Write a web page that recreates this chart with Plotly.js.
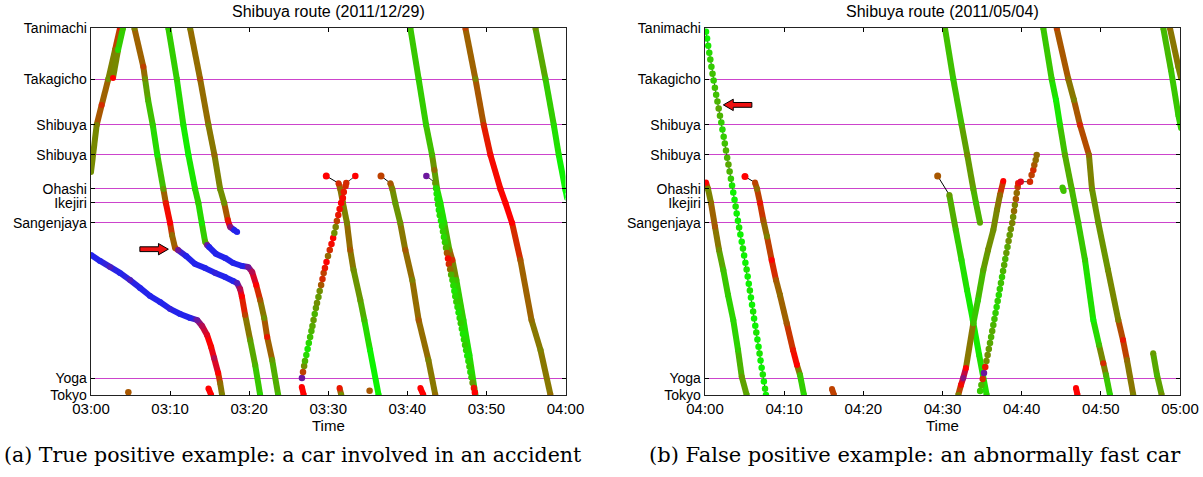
<!DOCTYPE html>
<html><head><meta charset="utf-8">
<script src="https://cdn.plot.ly/plotly-3.0.1.min.js"></script>
<style>html,body{margin:0;padding:0;background:#fff}#chart{width:1203px;height:477px}</style>
</head><body><div id="chart"></div>
<script>
// ---------- axes / labels ----------
const stationNames = ['Tokyo','Yoga','Sangenjaya','Ikejiri','Ohashi','Shibuya','Shibuya','Takagicho','Tanimachi'];
const stationKm    = [0, 0.56, 5.74, 6.41, 6.87, 8.01, 9.0, 10.53, 12.23];
const tickMinutes  = [0, 10, 20, 30, 40, 50, 60];
const tickLabelsA  = ['03:00','03:10','03:20','03:30','03:40','03:50','04:00'];
const tickLabelsB  = ['04:00','04:10','04:20','04:30','04:40','04:50','05:00'];
const titleA = 'Shibuya route (2011/12/29)';
const titleB = 'Shibuya route (2011/05/04)';
const captionA = '(a) True positive example: a car involved in an accident';
const captionB = '(b) False positive example: an abnormally fast car';
const arrowA = [9.78, 4.86];   // tip (minute, km), pointing right
const arrowB = [2.32, 9.67];   // tip, pointing left

// ---------- panel (a): minutes after 03:00, km from Tokyo, speed km/h ----------
const a1_t = [0, 0.72, 1.35, 2.19, 3.04, 3.67];
const a1_y = [7.43, 9.0, 9.67, 10.53, 11.5, 12.23];
const a1_v = [55, 50, 30, 55, 45, 25];

const a2_t = [2.78, 3.42, 4.05];
const a2_y = [10.57, 11.5, 12.23];
const a2_v = [20, 85, 75];

const a3_t = [5.48, 6.62, 6.84, 7.22, 7.81, 8.39, 9.15, 9.46, 10.0, 10.25, 10.63, 11.01, 12.03, 13.16, 14.43, 15.7, 16.96, 17.97, 18.48, 18.86, 19.08, 19.49, 20.13, 20.76, 21.39];
const a3_y = [12.23, 10.94, 10.53, 9.83, 9.0, 8.0, 6.87, 6.4, 5.73, 5.33, 4.9, 4.83, 4.63, 4.37, 4.23, 4.07, 3.93, 3.8, 3.73, 3.53, 3.28, 2.67, 1.83, 1.0, 0];
const a3_v = [50, 35, 55, 70, 80, 90, 60, 25, 20, 45, 40, 10, 3, 4, 3, 6, 3, 4, 8, 15, 20, 35, 60, 70, 85];

const a4_t = [9.78, 10.85, 11.68, 12.32, 13.16, 13.58, 14.01, 14.43, 14.68, 14.94, 15.82, 16.96, 17.97, 19.11, 19.87, 20.38, 20.89, 21.39, 21.9, 22.28, 22.91, 23.67];
const a4_y = [12.23, 10.53, 9.0, 8.0, 6.87, 6.4, 5.73, 5.11, 5.0, 4.93, 4.7, 4.57, 4.4, 4.3, 4.27, 4.1, 3.67, 3.17, 2.57, 1.93, 1.17, 0];
const a4_v = [80, 80, 90, 95, 85, 80, 90, 70, 10, 5, 3, 4, 3, 5, 10, 15, 20, 40, 55, 25, 60, 75];

const a5_t = [12.53, 13.8, 14.85, 15.61, 16.33, 16.84, 17.3, 17.59, 18.1, 18.48];
const a5_y = [12.23, 10.53, 9.0, 8.0, 6.87, 6.4, 5.83, 5.6, 5.5, 5.43];
const a5_v = [50, 40, 50, 45, 55, 55, 25, 12, 2, 2];

const a6_t = [0, 1.14, 2.41, 3.67, 4.94, 6.2, 7.47, 8.73, 10.0, 11.27, 12.53, 13.42, 14.05, 14.68, 15.19, 15.57, 16.08, 16.33, 16.58];
const a6_y = [4.67, 4.47, 4.27, 4.07, 3.83, 3.57, 3.3, 3.1, 2.87, 2.7, 2.57, 2.5, 2.3, 2.0, 1.6, 1.23, 0.73, 0.4, 0];
const a6_v = [3, 4, 8, 3, 8, 3, 4, 3, 6, 3, 4, 10, 15, 18, 22, 15, 20, 45, 50];

const a7_t = [40.38, 41.43, 42.37, 43.13, 43.42, 43.76, 44.18, 44.68, 45.32, 45.7, 46.2, 47.09, 47.85, 48.61];
const a7_y = [12.23, 10.53, 9.0, 8.0, 7.5, 6.87, 6.4, 5.73, 4.83, 4.5, 3.83, 2.5, 1.33, 0];
const a7_v = [75, 80, 80, 70, 45, 80, 90, 85, 55, 30, 75, 85, 90, 80];

const a8_t = [47.34, 48.61, 49.66, 50.51, 51.77, 52.41, 53.25, 54.3, 55.7, 56.84, 58.1];
const a8_y = [12.23, 10.53, 9.0, 8.0, 6.87, 6.4, 5.73, 4.5, 2.5, 1.5, 0];
const a8_v = [35, 50, 30, 22, 22, 20, 20, 40, 45, 50, 45];

const a9_t = [56.2, 57.47, 58.52, 59.15, 60.0, 60.2];
const a9_y = [12.23, 10.53, 9.0, 8.0, 6.83, 6.57];
const a9_v = [55, 75, 85, 90, 100, 100];

// sampled (dotted) trajectory rising from Yoga
const a10_t = [26.67, 26.81, 26.95, 27.06, 27.23, 27.39, 27.54, 27.71, 27.87, 28.0, 28.14, 28.29, 28.44, 28.58, 28.76, 28.92, 29.1, 29.27, 29.42, 29.58, 29.78, 29.97, 30.19, 30.41, 30.62, 30.77, 30.94, 31.09, 31.27, 31.44, 31.63, 31.85, 31.97, 32.19, 32.28, 33.42];
const a10_y = [0.57, 0.77, 0.97, 1.13, 1.33, 1.53, 1.73, 1.93, 2.13, 2.3, 2.5, 2.7, 2.9, 3.07, 3.27, 3.47, 3.67, 3.87, 4.07, 4.23, 4.43, 4.63, 4.83, 5.03, 5.23, 5.4, 5.6, 5.8, 6.0, 6.2, 6.4, 6.57, 6.77, 6.97, 7.07, 7.3];
const a10_v = [10, 35, 55, 70, 85, 90, 85, 75, 70, 65, 60, 70, 60, 55, 60, 55, 40, 30, 35, 25, 20, 45, 30, 22, 20, 55, 50, 35, 25, 22, 20, 22, 25, 30, 30, 20];

// first point of a11 / a12 is an isolated entry sample joined by a thin line
const a11_t = [29.75, 31.3, 31.52, 31.86, 32.37, 32.78, 33.2, 34.05, 34.56, 35.28, 36.37];
const a11_y = [7.3, 7.06, 6.87, 6.4, 5.73, 4.83, 4.17, 3.17, 2.5, 1.5, 0];
const a11_v = [20, 30, 45, 50, 50, 40, 55, 60, 75, 95, 95];

const a12_t = [36.67, 37.85, 38.1, 38.48, 39.11, 39.75, 40.63, 41.43, 42.66, 43.54];
const a12_y = [7.3, 7.06, 6.87, 6.4, 5.73, 4.83, 3.83, 2.5, 1.17, 0];
const a12_v = [35, 40, 50, 60, 55, 40, 50, 40, 50, 45];

const a13_t = [42.41, 43.54, 43.63, 43.71, 43.8, 43.89, 43.99, 44.1, 44.25, 44.38, 44.51, 44.63, 44.76, 44.89, 45.01, 45.14, 45.25, 45.42, 45.54, 45.7, 45.82, 45.95, 46.06, 46.2, 46.34, 46.48, 46.62, 46.76, 46.89, 47.03, 47.16, 47.3, 47.44, 47.58, 47.72, 47.85, 47.97, 48.11, 48.25, 48.42, 48.54];
const a13_y = [7.3, 7.07, 6.89, 6.71, 6.53, 6.35, 6.17, 5.99, 5.81, 5.63, 5.45, 5.27, 5.09, 4.91, 4.73, 4.55, 4.37, 4.19, 4.01, 3.83, 3.65, 3.47, 3.29, 3.11, 2.93, 2.75, 2.57, 2.39, 2.21, 2.03, 1.85, 1.67, 1.49, 1.31, 1.13, 0.95, 0.77, 0.59, 0.41, 0.23, 0.08];
const a13_v = [10, 60, 85, 90, 90, 85, 90, 85, 90, 85, 80, 85, 80, 70, 40, 22, 30, 45, 70, 80, 85, 90, 85, 80, 85, 90, 85, 80, 85, 90, 85, 80, 85, 90, 85, 80, 85, 80, 60, 25, 20];

// short fragments near Tokyo
const a14_t = [4.72];          const a14_y = [0.09];        const a14_v = [40];
const a15_t = [14.85, 15.19];  const a15_y = [0.22, 0];     const a15_v = [20, 20];
const a16_t = [31.43, 31.65];  const a16_y = [0.23, 0];     const a16_v = [25, 55];
const a17_t = [35.23];         const a17_y = [0.14];        const a17_v = [40];
const a18_t = [41.65, 42.03];  const a18_y = [0.23, 0];     const a18_v = [20, 20];
const a19_t = [26.65, 26.9];   const a19_y = [0.27, 0];     const a19_v = [20, 20];

// ---------- panel (b): minutes after 04:00 ----------
const b1_t = [0.13, 0.26, 0.40, 0.54, 0.67, 0.81, 0.95, 1.09, 1.25, 1.41, 1.57, 1.73, 1.89, 2.06, 2.2, 2.36, 2.5, 2.65, 2.8, 2.96, 3.11, 3.27, 3.42, 3.57, 3.73, 3.87, 4.0, 4.16, 4.31, 4.47, 4.64, 4.79, 4.94, 5.1, 5.26, 5.39, 5.53, 5.67, 5.8, 5.94, 6.08, 6.2, 6.35, 6.48, 6.62, 6.76, 6.89, 7.02, 7.16, 7.3, 7.44, 7.58, 7.7];
const b1_y = [12.11, 11.88, 11.64, 11.41, 11.18, 10.94, 10.71, 10.48, 10.24, 10.01, 9.78, 9.55, 9.31, 9.08, 8.85, 8.61, 8.38, 8.15, 7.91, 7.68, 7.45, 7.21, 6.98, 6.75, 6.51, 6.28, 6.05, 5.81, 5.58, 5.35, 5.11, 4.88, 4.65, 4.41, 4.18, 3.95, 3.71, 3.48, 3.25, 3.01, 2.78, 2.55, 2.31, 2.08, 1.85, 1.61, 1.38, 1.15, 0.91, 0.68, 0.45, 0.21, 0.0];
const b1_v = [95, 95, 90, 85, 80, 80, 75, 80, 75, 75, 70, 65, 70, 80, 85, 80, 75, 70, 70, 65, 70, 80, 90, 95, 95, 90, 95, 95, 90, 95, 95, 90, 95, 95, 90, 95, 95, 90, 95, 95, 90, 95, 95, 90, 95, 95, 90, 95, 95, 90, 95, 90, 95];

const b2_t = [0.13, 0.38, 0.76, 1.26, 1.77, 2.31, 2.91, 3.57, 4.17, 4.64, 5.27];
const b2_y = [7.08, 6.87, 6.4, 5.61, 4.83, 4.17, 3.33, 2.5, 1.5, 0.61, 0];
const b2_v = [20, 55, 45, 40, 55, 75, 80, 85, 80, 60, 65];

const b3_t = [5.05, 6.32, 6.57, 6.95, 7.36, 7.83, 8.42, 8.97, 9.47, 10.32, 11.12, 11.62, 12.0, 12.5];
const b3_y = [7.28, 7.08, 6.87, 6.4, 5.83, 5.28, 4.5, 3.83, 3.33, 2.39, 1.5, 1.0, 0.67, 0];
const b3_v = [20, 35, 45, 25, 40, 50, 20, 40, 45, 40, 25, 20, 75, 85];

const b4_t = [16.04, 16.29];   const b4_y = [0.2, 0];       const b4_v = [35, 35];

const b5_t = [30.31, 31.36, 32.42, 33.13, 33.89, 34.23, 34.74];
const b5_y = [12.23, 10.53, 9.0, 8.0, 6.87, 6.4, 5.74];
const b5_v = [70, 80, 70, 55, 65, 75, 65];

const b6_t = [29.39, 30.86, 31.68, 32.4, 33.1, 33.83, 34.63, 35.58];
const b6_y = [7.3, 6.67, 5.5, 4.5, 3.5, 2.5, 1.33, 0];
const b6_v = [40, 60, 75, 85, 90, 95, 90, 85];

const b7_t = [31.99, 32.33, 32.62, 32.96, 33.89, 34.48, 35.16, 35.75, 36.42, 36.88, 37.26, 37.68];
const b7_y = [0, 0.33, 0.57, 0.9, 2.39, 3.17, 4.17, 4.83, 5.5, 6.17, 6.67, 7.13];
const b7_v = [50, 22, 12, 20, 75, 80, 65, 55, 55, 50, 45, 20];

const b8_t = [34.75, 34.91, 35.08, 35.24, 35.4, 35.55, 35.7, 35.85, 36.0, 36.14, 36.28, 36.42, 36.56, 36.7, 36.84, 36.97, 37.11, 37.24, 37.38, 37.52, 37.65, 37.79, 37.93, 38.07, 38.21, 38.35, 38.49, 38.63, 38.81, 38.92, 39.04, 39.15, 39.27, 39.38, 39.5, 39.57, 39.88, 41.05, 41.26, 41.47, 41.6, 41.77, 41.9];
const b8_y = [0.13, 0.33, 0.53, 0.73, 0.93, 1.13, 1.33, 1.53, 1.73, 1.93, 2.13, 2.33, 2.53, 2.73, 2.93, 3.13, 3.33, 3.53, 3.73, 3.93, 4.13, 4.33, 4.53, 4.73, 4.93, 5.13, 5.33, 5.53, 5.73, 5.93, 6.13, 6.33, 6.53, 6.73, 6.93, 7.06, 7.11, 7.11, 7.33, 7.5, 7.67, 7.83, 8.0];
const b8_v = [80, 70, 30, 10, 25, 55, 55, 60, 65, 70, 65, 70, 75, 80, 85, 80, 85, 80, 75, 80, 70, 65, 70, 60, 65, 55, 60, 55, 50, 55, 45, 50, 40, 45, 35, 25, 18, 30, 35, 30, 40, 45, 45];

const b9_t = [45.15, 45.3];    const b9_y = [6.92, 6.8];    const b9_v = [75, 75];

const b10_t = [42.73, 43.79, 44.34, 44.84, 45.47, 46.32, 47.15, 48.0, 49.05, 49.77, 50.31, 50.65, 51.16];
const b10_y = [12.23, 10.53, 9.83, 9.0, 8.0, 6.87, 5.74, 4.5, 2.5, 1.67, 1.06, 0.67, 0];
const b10_v = [75, 80, 95, 85, 65, 70, 75, 80, 95, 75, 30, 70, 85];

const b11_t = [44.42, 45.89, 46.61, 47.37, 48.5, 48.88, 49.68, 50.9, 52.2, 52.8, 53.3, 54.1];
const b11_y = [12.23, 10.53, 9.83, 9.0, 8.0, 6.87, 5.74, 4.17, 2.5, 1.83, 1.17, 0];
const b11_v = [35, 45, 50, 30, 45, 55, 60, 55, 50, 25, 45, 50];

const b12_t = [56.61, 57.09, 57.69];          const b12_y = [1.39, 0.67, 0];        const b12_v = [60, 70, 55];
const b13_t = [57.89, 58.86, 59.79, 60.13];   const b13_y = [12.23, 10.83, 9.33, 8.9]; const b13_v = [70, 75, 80, 80];
const b14_t = [58.73, 59.79, 60.13];          const b14_y = [12.23, 10.94, 10.57];  const b14_v = [45, 50, 50];
const b15_t = [46.86, 47.05];                 const b15_y = [0.23, 0];              const b15_v = [20, 20];

// ---------- drawing ----------
const traces = [];
function mixRGB(c1, c2, f){ return c1.map((c, i) => c + (c2[i] - c) * f); }
function speedColor(v){
  const BLUE = [35, 35, 235], RED = [255, 0, 0], OLIVE = [125, 130, 0], GREEN = [0, 255, 0];
  let c;
  if (v <= 5) c = BLUE;
  else if (v <= 20) c = mixRGB(BLUE, RED, (v - 5) / 15);
  else if (v <= 50) c = mixRGB(RED, OLIVE, (v - 20) / 30);
  else c = mixRGB(OLIVE, GREEN, Math.min((v - 50) / 50, 1));
  return 'rgb(' + c.map(Math.round).join(',') + ')';
}
function axes(p){ return p === 'a' ? {xaxis:'x', yaxis:'y'} : {xaxis:'x2', yaxis:'y2'}; }
const base = {type:'scatter', hoverinfo:'skip', showlegend:false};
const LW = 6;

function solid(p, t, y, v, lead){
  const ax = axes(p);
  let s = 0;
  if (lead) {
    traces.push(Object.assign({}, base, ax, {x:[t[0], t[1]], y:[y[0], y[1]], mode:'lines',
      line:{color:'#000', width:1}}));
    traces.push(Object.assign({}, base, ax, {x:[t[0]], y:[y[0]], mode:'markers',
      marker:{size:7, color:speedColor(v[0])}}));
    s = 1;
  }
  for (let i = s; i < t.length - 1; i++) {
    traces.push(Object.assign({}, base, ax, {x:[t[i], t[i+1]], y:[y[i], y[i+1]], mode:'lines',
      line:{color:speedColor((v[i] + v[i+1]) / 2), width:LW}}));
  }
  traces.push(Object.assign({}, base, ax, {x:t.slice(s), y:y.slice(s), mode:'markers',
    marker:{size:LW, color:v.slice(s).map(speedColor)}}));
}
function dotted(p, t, y, v){
  traces.push(Object.assign({}, base, axes(p), {x:t, y:y, mode:'lines+markers',
    line:{color:'#000', width:0.8}, marker:{size:6.5, color:v.map(speedColor)}}));
}
function dots(p, t, y, v){
  traces.push(Object.assign({}, base, axes(p), {x:t, y:y, mode:'markers',
    marker:{size:6.5, color:v.map(speedColor)}}));
}

solid('a', a1_t, a1_y, a1_v);
solid('a', a2_t, a2_y, a2_v);
solid('a', a6_t, a6_y, a6_v);
solid('a', a3_t, a3_y, a3_v);
solid('a', a4_t, a4_y, a4_v);
solid('a', a5_t, a5_y, a5_v);
solid('a', a7_t, a7_y, a7_v);
solid('a', a8_t, a8_y, a8_v);
solid('a', a9_t, a9_y, a9_v);
solid('a', a11_t, a11_y, a11_v, true);
solid('a', a12_t, a12_y, a12_v, true);
solid('a', a15_t, a15_y, a15_v);
solid('a', a16_t, a16_y, a16_v);
solid('a', a18_t, a18_y, a18_v);
solid('a', a19_t, a19_y, a19_v);
dotted('a', a10_t, a10_y, a10_v);
dotted('a', a13_t, a13_y, a13_v);
dots('a', a14_t, a14_y, a14_v);
dots('a', a17_t, a17_y, a17_v);

solid('b', b2_t, b2_y, b2_v);
solid('b', b3_t, b3_y, b3_v, true);
solid('b', b4_t, b4_y, b4_v);
solid('b', b5_t, b5_y, b5_v);
solid('b', b6_t, b6_y, b6_v, true);
solid('b', b7_t, b7_y, b7_v);
solid('b', b9_t, b9_y, b9_v);
solid('b', b10_t, b10_y, b10_v);
solid('b', b11_t, b11_y, b11_v);
solid('b', b12_t, b12_y, b12_v);
solid('b', b13_t, b13_y, b13_v);
solid('b', b14_t, b14_y, b14_v);
solid('b', b15_t, b15_y, b15_v);
dotted('b', b1_t, b1_y, b1_v);
dotted('b', b8_t, b8_y, b8_v);

// block arrows (minute / km units)
function arrowPath(tip, dir){
  const [tx, ty] = tip, L = 3.6 * dir, hl = 1.25 * dir, hh = 0.19, sh = 0.08;
  return 'M' + tx + ',' + ty + ' L' + (tx - hl) + ',' + (ty + hh) + ' L' + (tx - hl) + ',' + (ty + sh) +
    ' L' + (tx - L) + ',' + (ty + sh) + ' L' + (tx - L) + ',' + (ty - sh) + ' L' + (tx - hl) + ',' + (ty - sh) +
    ' L' + (tx - hl) + ',' + (ty - hh) + ' Z';
}

const FONT = 'Liberation Sans, Arial, Helvetica, sans-serif';
const SERIF = 'DejaVu Serif, Liberation Serif, serif';
const W = 1203, H = 477;
const domXA = [91 / W, 565.5 / W], domXB = [705 / W, 1180 / W], domY = [(H - 395) / H, (H - 28) / H];
const axBase = {showline:true, linecolor:'#222', linewidth:1.3, mirror:'ticks', ticks:'inside', ticklen:4,
  tickcolor:'#000', tickwidth:1, zeroline:false, fixedrange:true};
const xBase = Object.assign({}, axBase, {range:[0, 60], tickvals:tickMinutes, showgrid:false,
  tickfont:{family:FONT, size:15, color:'#000'}});
const yBase = Object.assign({}, axBase, {range:[0, 12.233], tickvals:stationKm, ticktext:stationNames,
  showgrid:true, gridcolor:'#cc44cc', gridwidth:1, tickfont:{family:FONT, size:14, color:'#000'}});

const layout = {
  width:W, height:H, margin:{l:0, r:0, t:0, b:0}, paper_bgcolor:'#fff', plot_bgcolor:'#fff',
  font:{family:FONT, color:'#000'},
  xaxis: Object.assign({}, xBase, {domain:domXA, ticktext:tickLabelsA, anchor:'y'}),
  yaxis: Object.assign({}, yBase, {domain:domY, anchor:'x'}),
  xaxis2: Object.assign({}, xBase, {domain:domXB, ticktext:tickLabelsB, anchor:'y2'}),
  yaxis2: Object.assign({}, yBase, {domain:domY, anchor:'x2'}),
  shapes: [
    {type:'path', xref:'x', yref:'y', path:arrowPath(arrowA, 1), fillcolor:'#ee1111', line:{color:'#000', width:1}, layer:'above'},
    {type:'path', xref:'x2', yref:'y2', path:arrowPath(arrowB, -1), fillcolor:'#ee1111', line:{color:'#000', width:1}, layer:'above'}
  ],
  annotations: [
    {text:titleA, xref:'paper', yref:'paper', x:(domXA[0] + domXA[1]) / 2, y:(H - 12) / H, showarrow:false, xanchor:'center', yanchor:'middle', font:{family:FONT, size:16}},
    {text:titleB, xref:'paper', yref:'paper', x:(domXB[0] + domXB[1]) / 2, y:(H - 12) / H, showarrow:false, xanchor:'center', yanchor:'middle', font:{family:FONT, size:16}},
    {text:'Time', xref:'paper', yref:'paper', x:(domXA[0] + domXA[1]) / 2, y:(H - 425) / H, showarrow:false, xanchor:'center', yanchor:'middle', font:{family:FONT, size:15}},
    {text:'Time', xref:'paper', yref:'paper', x:(domXB[0] + domXB[1]) / 2, y:(H - 425) / H, showarrow:false, xanchor:'center', yanchor:'middle', font:{family:FONT, size:15}},
    {text:captionA, xref:'paper', yref:'paper', x:2 / W, y:(H - 455) / H, showarrow:false, xanchor:'left', yanchor:'middle', font:{family:SERIF, size:20.5}},
    {text:captionB, xref:'paper', yref:'paper', x:915 / W, y:(H - 455) / H, showarrow:false, xanchor:'center', yanchor:'middle', font:{family:SERIF, size:21}}
  ]
};

Plotly.newPlot('chart', traces, layout, {staticPlot:true, displayModeBar:false});
</script>
</body></html>
